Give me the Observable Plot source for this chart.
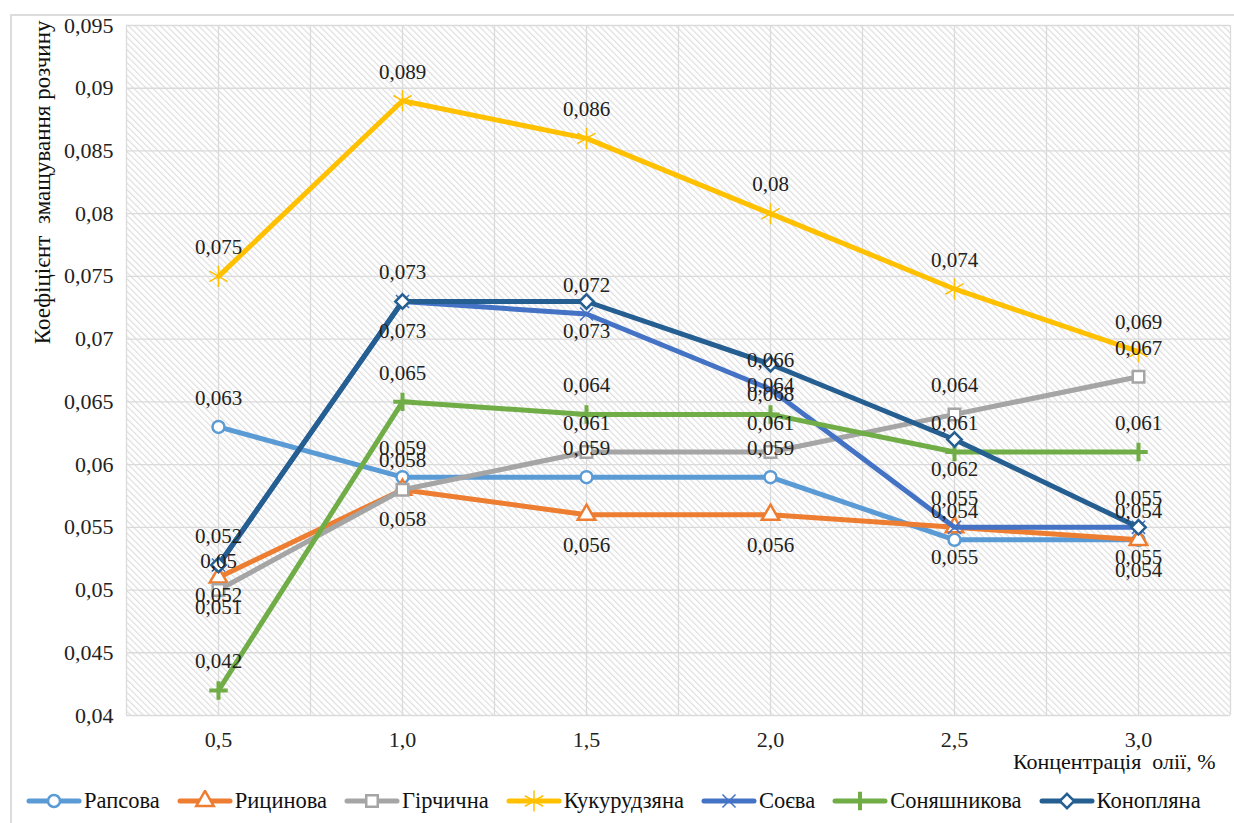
<!DOCTYPE html>
<html><head><meta charset="utf-8">
<script src="https://cdn.jsdelivr.net/npm/d3@7"></script>
<script src="https://cdn.jsdelivr.net/npm/@observablehq/plot@0.6"></script>
<style>
body{margin:0;background:#fff;font-family:"Times New Roman",Times,"Liberation Serif","DejaVu Serif","Noto Serif",serif;overflow:hidden;}
#wrap{position:relative;width:1234px;height:823px;overflow:hidden;}
#frame{position:absolute;left:10px;top:14px;width:1240px;height:830px;border:2px solid #dcdcdc;box-sizing:border-box;}
#chart{position:absolute;left:0;top:0;}
#legend{position:absolute;left:26px;top:788px;height:26px;display:flex;align-items:center;font-size:22.5px;color:#111;white-space:nowrap;}
.item{display:flex;align-items:center;margin-right:17px;}
.item svg{margin-right:2px;}
</style></head><body>
<div id="wrap"><div id="frame"></div><div id="chart"></div><div id="legend"></div></div>
<script>
// ---- data ----
const concentrations = [0.5, 1.0, 1.5, 2.0, 2.5, 3.0];
const concentrationLabels = ["0,5", "1,0", "1,5", "2,0", "2,5", "3,0"];
const yTicks = [0.04, 0.045, 0.05, 0.055, 0.06, 0.065, 0.07, 0.075, 0.08, 0.085, 0.09, 0.095];
const seriesNames = ["Рапсова", "Рицинова", "Гірчична", "Кукурудзяна", "Соєва", "Соняшникова", "Конопляна"];
const rapsova      = [0.063, 0.059, 0.059, 0.059, 0.054, 0.054];
const rytsynova    = [0.051, 0.058, 0.056, 0.056, 0.055, 0.054];
const hirchychna   = [0.050, 0.058, 0.061, 0.061, 0.064, 0.067];
const kukurudziana = [0.075, 0.089, 0.086, 0.080, 0.074, 0.069];
const soieva       = [0.052, 0.073, 0.072, 0.066, 0.055, 0.055];
const soniashnykova= [0.042, 0.065, 0.064, 0.064, 0.061, 0.061];
const konopliana   = [0.052, 0.073, 0.073, 0.068, 0.062, 0.055];
const seriesValues = [rapsova, rytsynova, hirchychna, kukurudziana, soieva, soniashnykova, konopliana];
const xTitle = "Концентрація  олії, %";
const yTitle = "Коефіцієнт  змащування розчину";

// ---- styles ----
const FONT = "'Times New Roman',Times,'Liberation Serif','DejaVu Serif','Noto Serif',serif";
const styles = {
  "Рапсова":     {color: "#5B9BD5", symbol: "circle",   r: 6,  fill: "#fff", sw: 2.5, label: "above"},
  "Рицинова":    {color: "#ED7D31", symbol: "triangle", r: 6.5,fill: "#fff", sw: 2.5, label: "below"},
  "Гірчична":    {color: "#A5A5A5", symbol: "square",   r: 6.5,fill: "#fff", sw: 2.5, label: "above"},
  "Кукурудзяна": {color: "#FFC000", symbol: "asterisk", r: 10, fill: "none", sw: 1.5, label: "above"},
  "Соєва":       {color: "#4472C4", symbol: "times",    r: 6,  fill: "none", sw: 1.5, label: "above"},
  "Соняшникова": {color: "#70AD47", symbol: "plus",     r: 6,  fill: "none", sw: 4,   label: "above"},
  "Конопляна":   {color: "#255E91", symbol: "diamond2", r: 6.5,fill: "#fff", sw: 2.5, label: "below"}
};
const symbolTypes = {circle: d3.symbolCircle, triangle: d3.symbolTriangle, square: d3.symbolSquare, asterisk: d3.symbolAsterisk, times: d3.symbolTimes, plus: d3.symbolPlus, diamond2: d3.symbolDiamond2};

const fmt = v => String(v).replace(".", ",");
const rows = [];
seriesNames.forEach((name, i) => seriesValues[i].forEach((v, j) =>
  rows.push({series: name, x: concentrations[j], y: v, label: fmt(v), pos: styles[name].label})));

const gridXs = d3.range(concentrations[0] - 0.25, concentrations[concentrations.length - 1] + 0.3, 0.25);

const marks = [
  Plot.frame({fill: "url(#hatch)", stroke: "none"}),
  Plot.gridY(yTicks, {stroke: "#dadada", strokeOpacity: 1, strokeWidth: 1.3}),
  Plot.gridX(gridXs, {stroke: "#dadada", strokeOpacity: 1, strokeWidth: 1.3}),
  Plot.axisY({ticks: yTicks, tickFormat: fmt, tickSize: 0, tickPadding: 13, fontSize: 22, label: null, fill: "#222"}),
  Plot.axisX({ticks: concentrations, tickFormat: (d, i) => concentrationLabels[i], tickSize: 0, tickPadding: 16, fontSize: 22, label: null, fill: "#222"}),
  Plot.text([yTitle], {frameAnchor: "top-left", rotate: -90, textAnchor: "end", dx: -93, dy: -5, fontSize: 23, fill: "#111"}),
  Plot.text([xTitle], {frameAnchor: "bottom-right", textAnchor: "end", dx: -15, dy: 53, fontSize: 22, fill: "#111"})
];
seriesNames.forEach(name => {
  const s = styles[name];
  const d = rows.filter(r => r.series === name);
  marks.push(Plot.line(d, {x: "x", y: "y", stroke: s.color, strokeWidth: 5, strokeLinejoin: "round", strokeLinecap: "round"}));
  marks.push(Plot.dot(d, {x: "x", y: "y", symbol: s.symbol, r: s.r, fill: s.fill, stroke: s.color, strokeWidth: s.sw}));
});
marks.push(Plot.text(rows.filter(r => r.pos === "above"), {x: "x", y: "y", text: "label", dy: -29, fontSize: 21, fill: "#222"}));
marks.push(Plot.text(rows.filter(r => r.pos === "below"), {x: "x", y: "y", text: "label", dy: 30, fontSize: 21, fill: "#222"}));

const svg = Plot.plot({
  width: 1234, height: 780,
  marginLeft: 126, marginRight: 4, marginTop: 25, marginBottom: 65,
  x: {domain: [gridXs[0], gridXs[gridXs.length - 1]]},
  y: {domain: [yTicks[0], yTicks[yTicks.length - 1]]},
  style: {fontFamily: FONT, background: "transparent", overflow: "visible"},
  marks
});
svg.querySelectorAll("text").forEach(t => t.style.fontFamily = FONT);
const defs = d3.select(svg).insert("defs", ":first-child");
const pat = defs.append("pattern").attr("id", "hatch").attr("patternUnits", "userSpaceOnUse")
  .attr("width", 4.5).attr("height", 4.5).attr("patternTransform", "rotate(-45)");
pat.append("rect").attr("width", 4.5).attr("height", 4.5).attr("fill", "#fff");
pat.append("line").attr("x1", 0.6).attr("y1", 0).attr("x2", 0.6).attr("y2", 4.5).attr("stroke", "#dedede").attr("stroke-width", 1.2);
document.getElementById("chart").appendChild(svg);

// ---- legend ----
const legend = d3.select("#legend");
seriesNames.forEach(name => {
  const s = styles[name];
  const item = legend.append("div").attr("class", "item");
  const sv = item.append("svg").attr("width", 56).attr("height", 22);
  sv.append("line").attr("x1", 3).attr("x2", 53).attr("y1", 11).attr("y2", 11).attr("stroke", s.color).attr("stroke-width", 5).attr("stroke-linecap", "round");
  sv.append("path").attr("transform", "translate(28,11)")
    .attr("d", d3.symbol().type(symbolTypes[s.symbol]).size(Math.PI * s.r * s.r)())
    .attr("fill", s.fill).attr("stroke", s.color).attr("stroke-width", s.sw);
  item.append("span").text(name);
});
</script></body></html>
